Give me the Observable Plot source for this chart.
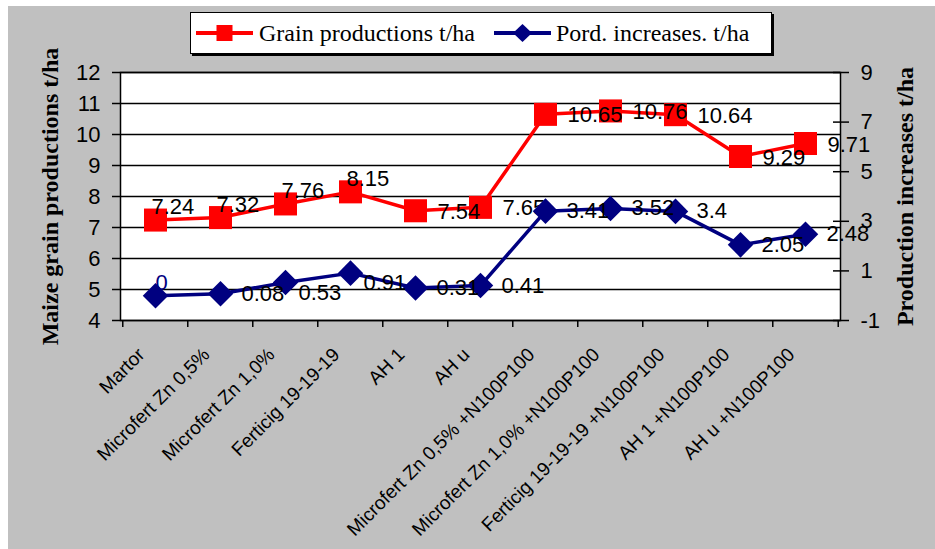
<!DOCTYPE html>
<html>
<head>
<meta charset="utf-8">
<script src="https://cdn.jsdelivr.net/npm/d3@7"></script>
<script src="https://cdn.jsdelivr.net/npm/@observablehq/plot@0.6"></script>
<style>
  body { margin: 0; background: #ffffff; }
  #wrap { position: relative; width: 935px; height: 549px; overflow: hidden; }
  #bg { position: absolute; left: 8px; top: 6px; right: 0; bottom: 0; background: #c0c0c0; }
  #chart { position: absolute; left: 0; top: 0; }
  #legend { position: absolute; left: 190px; top: 12px; width: 580px; height: 40px; background: #fff;
            border: 1.5px solid #000; box-shadow: 2px 2px 0 #000;
            font-family: "Liberation Serif", "Times New Roman", serif; font-size: 24px; color: #000; }
  .item { position: absolute; top: 0; height: 40px; display: flex; align-items: center; white-space: nowrap; }
</style>
</head>
<body>
<div id="wrap">
  <div id="bg"></div>
  <div id="chart"></div>
  <div id="legend"></div>
</div>
<script>
// ---- data ----
const categories = [
  "Martor", "Microfert Zn 0,5%", "Microfert Zn 1,0%", "Ferticig 19-19-19", "AH 1", "AH u",
  "Microfert Zn 0,5% +N100P100", "Microfert Zn 1,0% +N100P100", "Ferticig 19-19-19 +N100P100",
  "AH 1 +N100P100", "AH u +N100P100"
];
const grain = [7.24, 7.32, 7.76, 8.15, 7.54, 7.65, 10.65, 10.76, 10.64, 9.29, 9.71];
const increase = [0, 0.08, 0.53, 0.91, 0.31, 0.41, 3.41, 3.52, 3.4, 2.05, 2.48];
const leftTicks = [4, 5, 6, 7, 8, 9, 10, 11, 12];
const rightTicks = [-1, 1, 3, 5, 7, 9];
const seriesNames = ["Grain productions t/ha", "Pord. increases. t/ha"];
const leftTitle = "Maize grain productions t/ha";
const rightTitle = "Production increases t/ha";

// ---- style (label placement per point) ----
const grainLabelPos = ["above", "above", "above", "above", "right", "right", "right", "right", "right", "right", "right"];
const incLabelPos = ["above", "right", "below", "below", "right", "right", "right", "right", "right", "right", "right"];
const grainOffsets = { above: { dx: -4, dy: -13 }, right: { dx: 22, dy: 1 } };
const incOffsets = { above: { dx: 0, dy: -13 }, right: { dx: 21, dy: 0 }, below: { dx: 13, dy: 10 } };

const RED = "#ff0000", NAVY = "#000080";
const SANS = "'Liberation Sans', Arial, sans-serif";
const SERIF = "'Liberation Serif', 'Times New Roman', serif";

// right axis (-1..9) mapped onto left axis (4..12)
const toLeft = r => 4 + (r + 1) * 0.8;
const fromLeft = l => Math.round((l - 4) / 0.8 - 1);

const rows = categories.map((c, i) => ({
  cat: c, grain: grain[i], inc: increase[i], incY: toLeft(increase[i]),
  gPos: grainLabelPos[i], iPos: incLabelPos[i]
}));

const marginLeft = 120, marginRight = 95, W = 935;
const step = (W - marginLeft - marginRight) / categories.length;

const grainLabels = Object.entries(grainOffsets).map(([k, o]) =>
  Plot.text(rows.filter(d => d.gPos === k), {
    x: "cat", y: "grain", text: d => String(d.grain), textAnchor: "start",
    dx: o.dx, dy: o.dy, fill: "black", fontSize: 22, fontFamily: SANS
  }));
const incLabels = Object.entries(incOffsets).map(([k, o]) =>
  Plot.text(rows.filter(d => d.iPos === k), {
    x: "cat", y: "incY", text: d => String(d.inc), textAnchor: "start",
    dx: o.dx, dy: o.dy, fill: d => d.inc === 0 ? NAVY : "black", fontSize: 22, fontFamily: SANS
  }));

const chart = Plot.plot({
  width: W, height: 549,
  marginTop: 72, marginBottom: 229, marginLeft, marginRight,
  style: { background: "transparent", fontFamily: SANS, color: "black", overflow: "visible" },
  x: { type: "point", domain: categories, padding: 0.5 },
  y: { domain: [4, 12] },
  marks: [
    Plot.frame({ fill: "white" }),
    Plot.gridY(leftTicks, { stroke: "black", strokeOpacity: 1, strokeWidth: 1.5 }),
    Plot.frame({ stroke: "black", strokeWidth: 1.5 }),
    // left axis
    Plot.axisY(leftTicks, { anchor: "left", tickSize: 8, tickPadding: 12, fontSize: 22, strokeWidth: 1.5, label: null, tickFormat: d => String(d) }),
    // right axis: crossing ticks + labels
    Plot.axisY(rightTicks.map(toLeft), { anchor: "right", tickSize: 16, dx: -8, strokeWidth: 1.5, label: null, tickFormat: () => "" }),
    Plot.axisY(rightTicks.map(toLeft), { anchor: "right", tickSize: 0, tickPadding: 20, fontSize: 22, label: null, tickFormat: d => String(fromLeft(d)) }),
    // x axis: tick marks at category boundaries
    Plot.axisX({ anchor: "bottom", tickSize: 7, dx: -step / 2, strokeWidth: 1.5, label: null, tickFormat: () => "" }),
    Plot.axisX([categories[categories.length - 1]], { anchor: "bottom", tickSize: 7, dx: step / 2, strokeWidth: 1.5, label: null, tickFormat: () => "" }),
    // x axis labels
    Plot.axisX({ anchor: "bottom", tickSize: 0, tickPadding: 31, tickRotate: -45, dx: -14, fontSize: 19, label: null }),
    // axis titles
    Plot.text([leftTitle], { text: d => d, frameAnchor: "left", textAnchor: "middle", dx: -70, rotate: -90, fontFamily: SERIF, fontWeight: "bold", fontSize: 24, fill: "black" }),
    Plot.text([rightTitle], { text: d => d, frameAnchor: "right", textAnchor: "middle", dx: 65, rotate: -90, fontFamily: SERIF, fontWeight: "bold", fontSize: 24, fill: "black" }),
    // grain series
    Plot.line(rows, { x: "cat", y: "grain", stroke: RED, strokeWidth: 3.5 }),
    Plot.dot(rows, { x: "cat", y: "grain", symbol: "square", r: 13, fill: RED, stroke: "none" }),
    ...grainLabels,
    // increase series
    Plot.line(rows, { x: "cat", y: "incY", stroke: NAVY, strokeWidth: 3.5 }),
    Plot.dot(rows, { x: "cat", y: "incY", symbol: "diamond2", r: 11.5, fill: NAVY, stroke: "none" }),
    ...incLabels
  ]
});
document.getElementById("chart").appendChild(chart);

// legend
const legend = document.getElementById("legend");
const sw = (color, shape) => `<svg width="57" height="20" style="display:block">
  <line x1="0" x2="57" y1="10" y2="10" stroke="${color}" stroke-width="4"/>
  ${shape === "square"
    ? `<rect x="20.5" y="2" width="16" height="16" fill="${color}"/>`
    : `<path d="M28.5,1 L38,10 L28.5,19 L19,10 Z" fill="${color}"/>`}
</svg>`;
legend.innerHTML = `
  <div class="item" style="left:5px">${sw(RED, "square")}</div>
  <div class="item" style="left:68px">${seriesNames[0]}</div>
  <div class="item" style="left:303px">${sw(NAVY, "diamond")}</div>
  <div class="item" style="left:365px">${seriesNames[1]}</div>`;
</script>
</body>
</html>
